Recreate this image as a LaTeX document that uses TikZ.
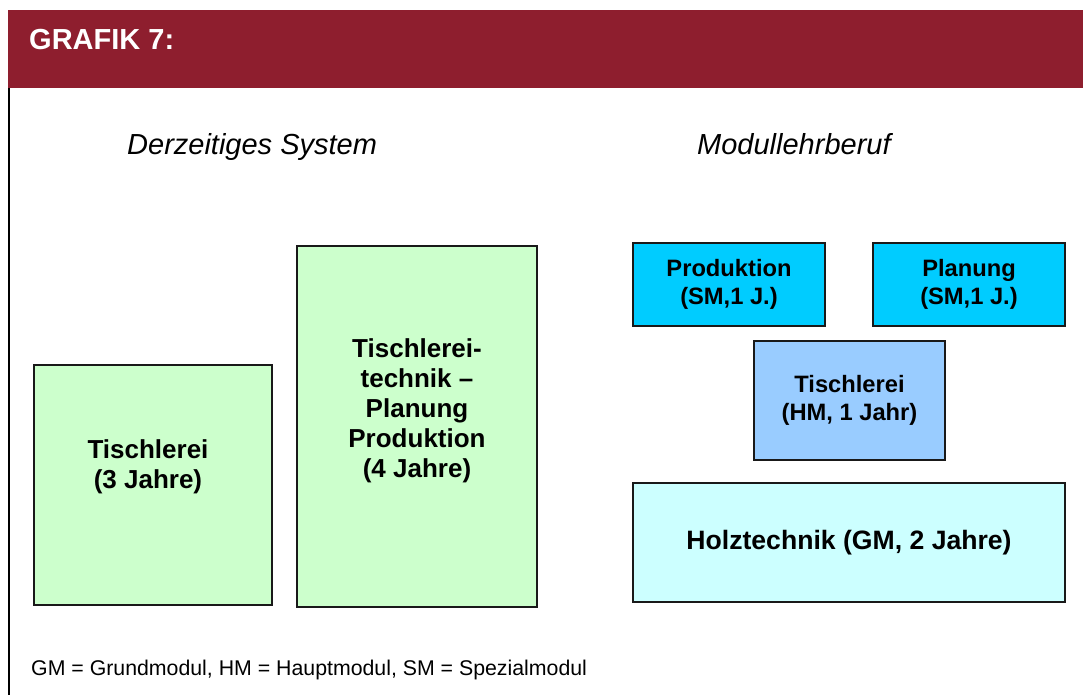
\documentclass[tikz,border=0pt]{standalone}
\usepackage{fontspec}
\setmainfont{Liberation Sans}
\definecolor{hdr}{RGB}{142,30,46}
\definecolor{lgreen}{RGB}{204,255,204}
\definecolor{cyanbox}{RGB}{0,204,255}
\definecolor{lblue}{RGB}{153,204,255}
\definecolor{lcyan}{RGB}{204,255,255}
\tikzset{
  box/.style={draw=black!90, line width=1.8pt, inner sep=0pt, outer sep=0pt},
  boxtext/.style={inner sep=0pt, align=center, font=\bfseries\fontsize{26}{30}\selectfont},
  smalltext/.style={inner sep=0pt, align=center, font=\bfseries\fontsize{23.7}{28}\selectfont},
  heading/.style={inner sep=0pt, anchor=base west, font=\itshape\fontsize{29}{34}\selectfont},
}
\begin{document}
\begin{tikzpicture}[x=1pt,y=-1pt]
\useasboundingbox (0,0) rectangle (1083,695);
\fill[white] (0,0) rectangle (1083,695);
% header band
\node[fill=hdr, inner sep=0pt, minimum width=1075pt, minimum height=78pt, anchor=north west] (band) at (8,10) {};
\node[inner sep=0pt, anchor=base west, text=white, font=\bfseries\fontsize{29}{34}\selectfont] (title) at (29,49.5) {GRAFIK 7:};
% left frame line
\coordinate (ftop) at (9,88);
\coordinate (fbot) at (9,695);
\draw[line width=2pt, black] (ftop) -- (fbot);
% headings
\node[heading] (h1) at (127,155) {Derzeitiges System};
\node[heading] (h2) at (697,155) {Modullehrberuf};
% left system
\node[box, fill=lgreen, minimum width=238.5pt, minimum height=240.5pt] (l1) at (153,485) {};
\node[boxtext] (l1t) at (148,467) {Tischlerei\\(3 Jahre)};
\node[box, fill=lgreen, minimum width=239.5pt, minimum height=361.5pt] (l2) at (417,426.5) {};
\node[boxtext] (l2t) at (417,411) {Tischlerei-\\technik –\\Planung\\Produktion\\(4 Jahre)};
% module system
\node[box, fill=cyanbox, minimum width=192.5pt, minimum height=83.5pt, smalltext] (p) at (729,284.5) {Produktion\\(SM,1 J.)};
\node[box, fill=cyanbox, minimum width=192.5pt, minimum height=83.5pt, smalltext] (pl) at (969,284.5) {Planung\\(SM,1 J.)};
\node[box, fill=lblue, minimum width=191.5pt, minimum height=119.5pt, smalltext] (t) at (849.5,400.5) {Tischlerei\\(HM, 1 Jahr)};
\node[box, fill=lcyan, minimum width=432.5pt, minimum height=119.5pt, font=\bfseries\fontsize{26.6}{30}\selectfont] (h) at (849,542.5) {Holztechnik (GM, 2 Jahre)};
% footnote
\node[inner sep=0pt, anchor=base west, font=\fontsize{21.3}{25}\selectfont] (foot) at (31,675) {GM = Grundmodul, HM = Hauptmodul, SM = Spezialmodul};
\end{tikzpicture}
\end{document}
